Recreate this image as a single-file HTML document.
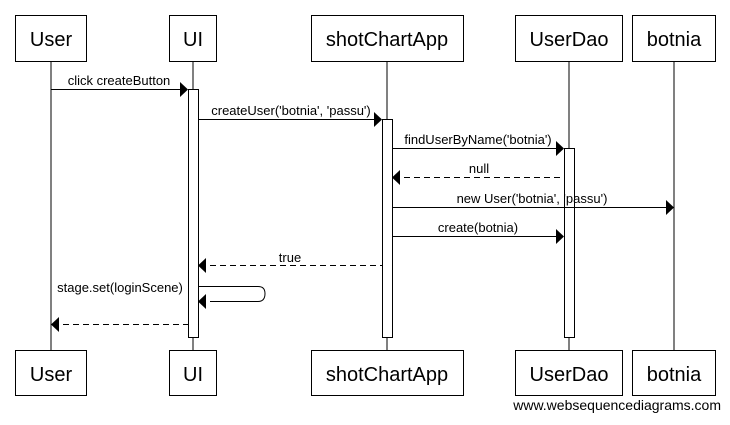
<!DOCTYPE html>
<html><head><style>body{margin:0;background:#fff}</style></head><body>
<svg width="730" height="420" xmlns="http://www.w3.org/2000/svg" font-family="Liberation Sans, sans-serif">
<g stroke="#000" stroke-width="1" fill="none">
<line x1="51" y1="61" x2="51" y2="350"/>
<line x1="193" y1="61" x2="193" y2="350"/>
<line x1="387" y1="61" x2="387" y2="350"/>
<line x1="569" y1="61" x2="569" y2="350"/>
<line x1="674" y1="61" x2="674" y2="350"/>
</g>
<g stroke="#000" fill="#fff">
<rect x="15.5" y="15.5" width="71" height="46"/>
<rect x="169.5" y="15.5" width="47" height="46"/>
<rect x="311.5" y="15.5" width="152" height="46"/>
<rect x="515.5" y="15.5" width="107" height="46"/>
<rect x="632.5" y="15.5" width="83" height="46"/>
<rect x="15.5" y="350.5" width="71" height="45"/>
<rect x="169.5" y="350.5" width="47" height="45"/>
<rect x="311.5" y="350.5" width="152" height="45"/>
<rect x="515.5" y="350.5" width="107" height="45"/>
<rect x="632.5" y="350.5" width="83" height="45"/>
<rect x="188.5" y="89.5" width="10" height="248"/>
<rect x="382.5" y="119.5" width="10" height="218"/>
<rect x="564.5" y="148.5" width="10" height="189"/>
</g>
<g font-size="20" text-anchor="middle" fill="#000">
<text x="51" y="46">User</text><text x="193" y="46">UI</text><text x="387" y="46">shotChartApp</text><text x="569" y="46">UserDao</text><text x="674" y="46">botnia</text>
<text x="51" y="381">User</text><text x="193" y="381">UI</text><text x="387" y="381">shotChartApp</text><text x="569" y="381">UserDao</text><text x="674" y="381">botnia</text>
</g>
<g stroke="#000" fill="none">
<line x1="51" y1="89.5" x2="180" y2="89.5"/>
<line x1="198" y1="119.5" x2="374" y2="119.5"/>
<line x1="392" y1="148.5" x2="556" y2="148.5"/>
<line x1="404" y1="177.5" x2="564" y2="177.5" stroke-dasharray="6,4"/>
<line x1="392" y1="207.5" x2="666" y2="207.5"/>
<line x1="392" y1="236.5" x2="556" y2="236.5"/>
<line x1="210" y1="265.5" x2="382" y2="265.5" stroke-dasharray="6,4"/>
<path d="M198 286.5 H258 Q265 286.5 265 293.5 Q265 301.5 258 301.5 H210"/>
<line x1="63" y1="324.5" x2="188" y2="324.5" stroke-dasharray="6,4"/>
</g>
<g fill="#000">
<polygon points="180,82 188,89.5 180,97"/>
<polygon points="374,112 382,119.5 374,127"/>
<polygon points="556,141 564,148.5 556,156"/>
<polygon points="400,170 392,177.5 400,185"/>
<polygon points="666,200 674,207.5 666,215"/>
<polygon points="556,229 564,236.5 556,244"/>
<polygon points="206,258 198,265.5 206,273"/>
<polygon points="206,294 198,301.5 206,309"/>
<polygon points="59,317 51,324.5 59,332"/>
</g>
<g font-size="13" fill="#000" text-anchor="middle">
<text x="119" y="85">click createButton</text>
<text x="291" y="115">createUser('botnia', 'passu')</text>
<text x="478" y="144">findUserByName('botnia')</text>
<text x="479" y="173">null</text>
<text x="532" y="203">new User('botnia', 'passu')</text>
<text x="478" y="232">create(botnia)</text>
<text x="290" y="262">true</text>
<text x="120" y="292">stage.set(loginScene)</text>
</g>
<text x="721" y="410" font-size="14" text-anchor="end" fill="#000">www.websequencediagrams.com</text>
</svg>
</body></html>
